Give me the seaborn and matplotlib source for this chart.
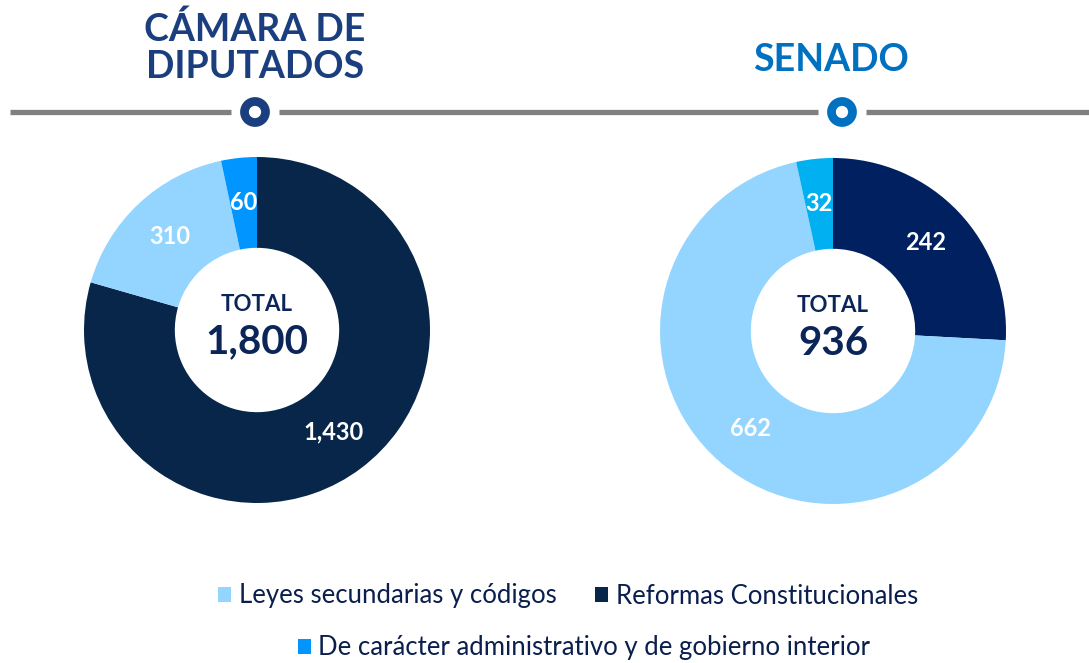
import matplotlib
matplotlib.use("Agg")
import matplotlib.pyplot as plt
import seaborn as sns
from matplotlib.patches import Circle, Patch

sns.set_style("white")
plt.rcParams["font.family"] = ["Lato", "DejaVu Sans"]

categories = ["Reformas Constitucionales", "Leyes secundarias y códigos",
              "De carácter administrativo y de gobierno interior"]
diputados = [1430, 310, 60]
senado = [242, 662, 32]
titles = ["CÁMARA DE\nDIPUTADOS", "SENADO"]

colors_dip = ["#07264a", "#93d5ff", "#0095ff"]
colors_sen = ["#002060", "#93d5ff", "#00b0f0"]
title_colors = ["#1a3e7e", "#0070c0"]
navy_text = "#0b2559"

W, H = 1089, 663
fig = plt.figure(figsize=(W / 100, H / 100), dpi=100)

# background layer in pixel coords: header lines, rings, titles
bg = fig.add_axes([0, 0, 1, 1])
bg.set_xlim(0, W)
bg.set_ylim(H, 0)
bg.axis("off")

bg.plot([10, 231], [112, 112], color="#808080", lw=3.8, solid_capstyle="butt")
bg.plot([279, 818], [112, 112], color="#808080", lw=3.8, solid_capstyle="butt")
bg.plot([866, W], [112, 112], color="#808080", lw=3.8, solid_capstyle="butt")
for cx, col in zip([255, 842], title_colors):
    bg.add_patch(Circle((cx, 112), 10.5, fc="white", ec=col, lw=6.3, zorder=3))

bg.text(255, 48, titles[0], ha="center", va="center", fontsize=27,
        fontweight="bold", color=title_colors[0], linespacing=1.1)
bg.text(831, 60, titles[1], ha="center", va="center", fontsize=27,
        fontweight="bold", color=title_colors[1])

R = 173


def donut(cx, cy, values, colors):
    ax = fig.add_axes([(cx - R) / W, (H - cy - R) / H, 2 * R / W, 2 * R / H])
    wedges, _, autotexts = ax.pie(values, colors=colors, startangle=90,
                                  counterclock=False, autopct="%1.0f",
                                  pctdistance=0.74,
                                  wedgeprops=dict(width=0.525, linewidth=0),
                                  textprops=dict(color="white", fontsize=17,
                                                 fontweight="bold"))
    for t, v in zip(autotexts, values):
        t.set_text(f"{v:,}")
    ax.set_xlim(-1, 1)
    ax.set_ylim(-1, 1)
    total = sum(values)
    ax.text(0, 0.15, "TOTAL", ha="center", va="center", fontsize=16,
            fontweight="bold", color=navy_text)
    ax.text(0, -0.07, f"{total:,}", ha="center", va="center", fontsize=29,
            fontweight="bold", color=navy_text)
    return wedges


w_dip = donut(257, 330, diputados, colors_dip)
donut(833, 331, senado, colors_sen)

handles = [Patch(fc=c, ec="none") for c in colors_dip]
leg_kw = dict(frameon=False, fontsize=18.5, handlelength=0.5, handleheight=0.5,
              handletextpad=0.3, columnspacing=1.5, labelcolor="#0a1f4e")
fig.legend([handles[1], handles[0]], [categories[1], categories[0]], ncol=2,
           loc="center", bbox_to_anchor=(568 / W, 1 - 596 / H), **leg_kw)
fig.legend([handles[2]], [categories[2]], loc="center",
           bbox_to_anchor=(584 / W, 1 - 648 / H), **leg_kw)

fig.savefig("out.png", dpi=100)
